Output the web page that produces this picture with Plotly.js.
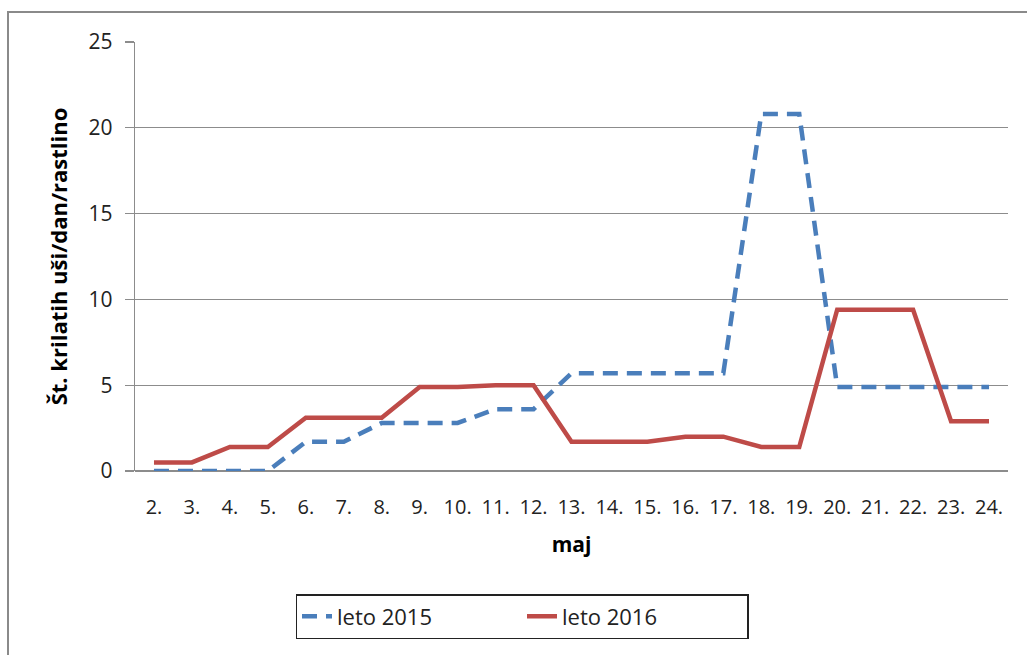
<!DOCTYPE html>
<html>
<head>
<meta charset="utf-8">
<script src="https://cdn.plot.ly/plotly-3.0.1.min.js"></script>
<style>
html,body{margin:0;padding:0;background:#fff;}
#chart{width:1027px;height:655px;}
</style>
</head>
<body>
<div id="chart"></div>
<script>
const days = ["2.","3.","4.","5.","6.","7.","8.","9.","10.","11.","12.","13.","14.","15.","16.","17.","18.","19.","20.","21.","22.","23.","24."];
const leto2015 = [0,0,0,0,1.7,1.7,2.8,2.8,2.8,3.6,3.6,5.7,5.7,5.7,5.7,5.7,20.8,20.8,4.9,4.9,4.9,4.9,4.9];
const leto2016 = [0.5,0.5,1.4,1.4,3.1,3.1,3.1,4.9,4.9,5.0,5.0,1.7,1.7,1.7,2.0,2.0,1.4,1.4,9.4,9.4,9.4,2.9,2.9];
const seriesNames = ["leto 2015","leto 2016"];
const yTicks = [0,5,10,15,20,25];

const FONT = "Open Sans, Noto Sans, sans-serif";
const ml = 135, mr = 19, mt = 42, mb = 184;
const W = 1027, H = 655;
const pw = W - ml - mr, ph = H - mt - mb;
const px2x = p => (p - ml) / pw;
const py2y = p => (H - mb - p) / ph;

const traces = [
  {x: days, y: leto2015, name: seriesNames[0], type: "scatter", mode: "lines",
   line: {color: "#4A7EBB", width: 4.5, dash: "15px,9px"}},
  {x: days, y: leto2016, name: seriesNames[1], type: "scatter", mode: "lines",
   line: {color: "#BE4B48", width: 4.5}}
];

const layout = {
  width: W, height: H,
  margin: {l: ml, r: mr, t: mt, b: mb, pad: 0},
  paper_bgcolor: "#fff", plot_bgcolor: "#fff",
  font: {family: FONT, size: 20, color: "#222"},
  showlegend: true,
  legend: {
    orientation: "h", x: px2x(522), xanchor: "center", y: py2y(594), yanchor: "top",
    bordercolor: "#222", borderwidth: 1.5, bgcolor: "#fff",
    font: {family: FONT, size: 22, color: "#222"},
    entrywidth: 180, tracegroupgap: 0
  },
  xaxis: {
    type: "category", categoryorder: "array", categoryarray: days,
    range: [-0.5, days.length - 0.5],
    showgrid: false, zeroline: false, showline: false, ticks: "",
    tickfont: {family: FONT, size: 20, color: "#222"},
    ticklabelstandoff: 22,
    title: {text: "<b>maj</b>", font: {family: FONT, size: 21, color: "#000"}, standoff: 18},
    fixedrange: true
  },
  yaxis: {
    range: [0, 25], tickvals: yTicks, ticktext: yTicks.map(String),
    showgrid: true, gridcolor: "#8c8c8c", gridwidth: 1.3,
    zeroline: true, zerolinecolor: "#8c8c8c", zerolinewidth: 1.3,
    showline: true, linecolor: "#8c8c8c", linewidth: 1.3,
    ticks: "outside", ticklen: 9, tickcolor: "#8c8c8c", tickwidth: 1.3,
    tickfont: {family: FONT, size: 21, color: "#222"},
    ticklabelstandoff: 8,
    title: {text: "<b>Št. krilatih uši/dan/rastlino</b>", font: {family: FONT, size: 22, color: "#000"}, standoff: 14},
    fixedrange: true
  },
  shapes: [
    {type: "rect", xref: "paper", yref: "paper",
     x0: px2x(8), x1: px2x(1060), y0: py2y(12), y1: py2y(700),
     line: {color: "#8a8a8a", width: 2}, fillcolor: "rgba(0,0,0,0)", layer: "below"}
  ]
};

Plotly.newPlot("chart", traces, layout, {displayModeBar: false, staticPlot: true});
</script>
</body>
</html>
